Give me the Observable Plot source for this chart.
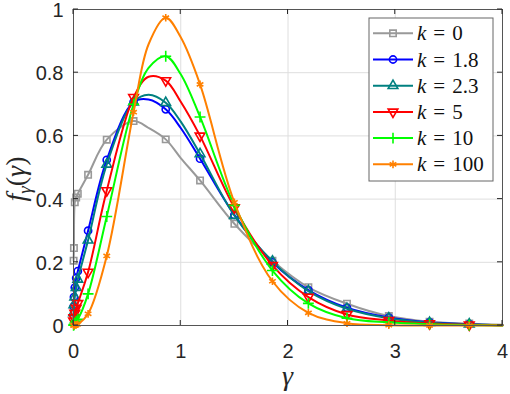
<!DOCTYPE html>
<html><head><meta charset="utf-8">
<script src="https://cdn.jsdelivr.net/npm/d3@7"></script>
<script src="https://cdn.jsdelivr.net/npm/@observablehq/plot@0.6"></script>
<style>body{margin:0;background:#fff}</style>
</head><body><div id="chart"></div>
<script>
// ---- data ----
const kLabels = ["0", "1.8", "2.3", "5", "10", "100"];
const colors = ["#999999", "#0000ff", "#008080", "#ff0000", "#00ff00", "#ff8000"];
const symbols = ["square", "circle", "triangle", "triangle", "plus", "asterisk"];
const rotations = [0, 0, 0, 180, 0, 0];

const xTicks = [0, 1, 2, 3, 4];
const yTicks = [0, 0.2, 0.4, 0.6, 0.8, 1];
const yTickLabels = ["0", "0.2", "0.4", "0.6", "0.8", "1"];

// marker samples
const markerGamma = [0.001, 0.004, 0.012, 0.025, 0.04, 0.136, 0.31, 0.56, 0.86, 1.18, 1.50, 1.855, 2.19, 2.55, 2.94, 3.32, 3.69];
const mk0   = [0.205, 0.245, 0.39, 0.405, 0.417, 0.477, 0.588, 0.647, 0.589, 0.459, 0.322, 0.205, 0.121, 0.069, 0.030, 0.012, 0.006];
const mk18  = [0.06, 0.09, 0.12, 0.15, 0.172, 0.30, 0.524, 0.707, 0.684, 0.528, 0.350, 0.200, 0.112, 0.056, 0.025, 0.010, 0.004];
const mk23  = [0.04, 0.065, 0.09, 0.12, 0.146, 0.27, 0.51, 0.707, 0.705, 0.543, 0.348, 0.203, 0.109, 0.053, 0.023, 0.009, 0.004];
const mk5   = [0.015, 0.025, 0.039, 0.055, 0.07, 0.169, 0.427, 0.722, 0.775, 0.600, 0.373, 0.190, 0.090, 0.035, 0.016, 0.006, 0.002];
const mk10  = [0.001, 0.003, 0.008, 0.014, 0.02, 0.10, 0.345, 0.70, 0.852, 0.66, 0.38, 0.174, 0.07, 0.023, 0.01, 0.004, 0.001];
const mk100 = [0, 0.0005, 0.001, 0.002, 0.004, 0.037, 0.22, 0.675, 0.974, 0.763, 0.39, 0.14, 0.04, 0.007, 0.001, 0, 0];

// extra points (between markers)
const extraGamma = [0.7, 1.0, 4.0];
const ex0   = [0.625, 0.530, 0.002];
const ex18  = [0.715, 0.625, 0.001];
const ex23  = [0.730, 0.645, 0.001];
const ex5   = [0.787, 0.708, 0.0005];
const ex10  = [0.815, 0.795, 0];
const ex100 = [0.890, 0.912, 0];

const markerSeries = [mk0, mk18, mk23, mk5, mk10, mk100];
const extraSeries = [ex0, ex18, ex23, ex5, ex10, ex100];

// ---- tables ----
const markerRows = [], lineRows = [];
markerSeries.forEach((vals, s) => {
  vals.forEach((v, j) => { markerRows.push({s, g: markerGamma[j], v}); lineRows.push({s, g: markerGamma[j], v}); });
  extraSeries[s].forEach((v, j) => lineRows.push({s, g: extraGamma[j], v}));
});
lineRows.sort((a, b) => a.s - b.s || a.g - b.g);

const marks = [
  Plot.gridX(xTicks, {stroke: "#dedede", strokeOpacity: 1}),
  Plot.gridY(yTicks, {stroke: "#dedede", strokeOpacity: 1}),
  Plot.axisX(xTicks, {tickSize: 0, tickPadding: 18, label: null, fontSize: 20, tickFormat: d => String(d)}),
  Plot.axisY(yTicks, {tickSize: 0, tickPadding: 10, label: null, fontSize: 20, dy: 1, tickFormat: (d, i) => yTickLabels[i]})
];
kLabels.forEach((k, s) => {
  marks.push(Plot.line(lineRows.filter(d => d.s === s), {x: "g", y: "v", stroke: colors[s], strokeWidth: 2, curve: "catmull-rom"}));
  marks.push(Plot.dot(markerRows.filter(d => d.s === s), {x: "g", y: "v", symbol: symbols[s], r: 3.6, stroke: colors[s], strokeWidth: 1.6, fill: "none", rotate: rotations[s]}));
});
marks.push(Plot.frame({stroke: "#555", strokeWidth: 1}));

const chart = Plot.plot({
  width: 510, height: 394,
  marginLeft: 73, marginRight: 8, marginTop: 9, marginBottom: 69,
  x: {domain: [0, 4]},
  y: {domain: [0, 1]},
  style: {fontFamily: "'Liberation Sans', Arial, sans-serif", fontSize: "20px", color: "#262626", background: "#fff"},
  marks
});
document.getElementById("chart").appendChild(chart);

// ---- inside ticks, labels, legend ----
const svg = d3.select(chart);
const xs = chart.scale("x"), ys = chart.scale("y");
const X0 = xs.apply(0), X1 = xs.apply(4), Y0 = ys.apply(0), Y1 = ys.apply(1);
const tg = svg.append("g").attr("stroke", "#262626").attr("stroke-width", 1);
xTicks.forEach(t => {
  const px = xs.apply(t);
  tg.append("line").attr("x1", px).attr("x2", px).attr("y1", Y0).attr("y2", Y0 - 5);
  tg.append("line").attr("x1", px).attr("x2", px).attr("y1", Y1).attr("y2", Y1 + 5);
});
yTicks.forEach(t => {
  const py = ys.apply(t);
  tg.append("line").attr("x1", X0).attr("x2", X0 + 5).attr("y1", py).attr("y2", py);
  tg.append("line").attr("x1", X1 - 5).attr("x2", X1).attr("y1", py).attr("y2", py);
});

const serif = "'Liberation Serif', 'DejaVu Serif', serif";
// x label
svg.append("text").attr("x", (X0 + X1) / 2).attr("y", 385)
  .style("text-anchor", "middle").style("font-family", serif).style("font-style", "italic").style("font-size", "28px")
  .attr("fill", "#262626").text("γ");
// y label
const yl = svg.append("text").attr("transform", `translate(25,${(Y0 + Y1) / 2 + 12}) rotate(-90)`)
  .style("text-anchor", "middle").style("font-family", serif).style("font-size", "28px").attr("fill", "#262626");
yl.append("tspan").style("font-style", "italic").text("f");
yl.append("tspan").style("font-style", "italic").style("font-size", "19px").attr("dy", 6).text("γ");
yl.append("tspan").attr("dy", -6).style("font-style", "normal").text("(");
yl.append("tspan").style("font-style", "italic").text("γ");
yl.append("tspan").style("font-style", "normal").text(")");

// legend
const lg = svg.append("g");
lg.append("rect").attr("x", 369).attr("y", 18).attr("width", 124).attr("height", 163).attr("fill", "#fff").attr("stroke", "#666").attr("stroke-width", 1);
const d3sym = {square: d3.symbolSquare, circle: d3.symbolCircle, triangle: d3.symbolTriangle, plus: d3.symbolPlus, asterisk: d3.symbolAsterisk};
kLabels.forEach((k, s) => {
  const cy = 33.3 + s * 26.2;
  lg.append("line").attr("x1", 373).attr("x2", 413).attr("y1", cy).attr("y2", cy).attr("stroke", colors[s]).attr("stroke-width", 2);
  lg.append("path").attr("d", d3.symbol(d3sym[symbols[s]], Math.PI * 3.6 * 3.6)())
    .attr("transform", `translate(393,${cy}) rotate(${rotations[s]})`)
    .attr("fill", "none").attr("stroke", colors[s]).attr("stroke-width", 1.6);
  const t = lg.append("text").attr("x", 417).attr("y", cy + 7)
    .style("text-anchor", "start").style("font-family", serif).style("font-size", "21px").attr("fill", "#111");
  t.append("tspan").style("font-style", "italic").text("k");
  t.append("tspan").attr("dx", 7).text("=");
  t.append("tspan").attr("dx", 7).text(k);
});
</script>
</body></html>
